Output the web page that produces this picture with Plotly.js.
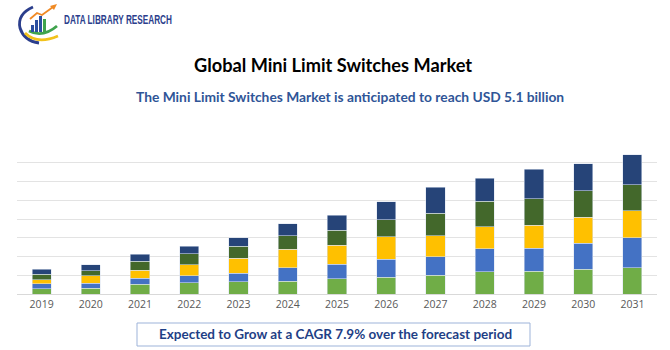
<!DOCTYPE html>
<html>
<head>
<meta charset="utf-8">
<script src="https://cdn.plot.ly/plotly-3.0.1.min.js"></script>
<style>
html,body{margin:0;padding:0;background:#fff;}
#chart{width:670px;height:350px;}
</style>
</head>
<body>
<div id="chart"></div>
<script>
// ---- data (grid units) ----
var years = ['2019','2020','2021','2022','2023','2024','2025','2026','2027','2028','2029','2030','2031'];
var seg1 = [0.27,0.30,0.51,0.59,0.66,0.69,0.82,0.90,0.99,1.19,1.21,1.31,1.40]; // light green
var seg2 = [0.28,0.28,0.34,0.39,0.44,0.71,0.78,0.96,1.01,1.22,1.22,1.40,1.60]; // blue
var seg3 = [0.21,0.39,0.43,0.59,0.82,0.99,1.01,1.19,1.12,1.17,1.24,1.38,1.44]; // yellow
var seg4 = [0.30,0.28,0.48,0.59,0.62,0.71,0.78,0.92,1.19,1.38,1.40,1.42,1.38]; // dark green
var seg5 = [0.27,0.30,0.37,0.39,0.46,0.66,0.80,0.94,1.38,1.22,1.58,1.44,1.60]; // navy
var seriesValues = [seg1, seg2, seg3, seg4, seg5];
var seriesNames = ['Segment 1','Segment 2','Segment 3','Segment 4','Segment 5'];
var seriesColors = ['#70AD47','#4472C4','#FFC000','#43682B','#264478'];

var titleText = 'Global Mini Limit Switches Market';
var subtitleText = 'The Mini Limit Switches Market is anticipated to reach USD 5.1 billion';
var footerText = 'Expected to Grow at a CAGR 7.9% over the forecast period';
var brandText = 'DATA LIBRARY RESEARCH';

// ---- layout helpers (pixel -> paper) ----
var W = 670, H = 350;
var ml = 17, mr = 13, mt = 144, mb = 56;
var pw = W - ml - mr, ph = H - mt - mb;
function px(x){ return (x - ml) / pw; }
function py(y){ return (H - mb - y) / ph; }

var traces = seriesValues.map(function(v, i){
  return {
    type: 'bar', x: years, y: v, name: seriesNames[i],
    marker: {color: seriesColors[i], line: {color: 'rgba(220,228,240,0.9)', width: 0.6}},
    hoverinfo: 'skip'
  };
});

function pathPx(d){
  return d.replace(/(-?\d+(\.\d+)?),(-?\d+(\.\d+)?)/g, function(m, a, b, c){
    return px(parseFloat(a)).toFixed(5) + ',' + py(parseFloat(c)).toFixed(5);
  });
}

var shapes = [
  // footer box
  {type:'rect', xref:'paper', yref:'paper', x0:px(137), x1:px(530), y0:py(346), y1:py(323),
   line:{color:'#9DB3D9', width:1}, fillcolor:'rgba(0,0,0,0)'},
  // logo: blue outer arc
  {type:'path', xref:'paper', yref:'paper', line:{color:'#2B3E8C', width:2.8},
   path: pathPx('M 33,7 Q 17,14 20,28 Q 24,41 39,43')},
  // logo: yellow swoosh
  {type:'path', xref:'paper', yref:'paper', line:{color:'#F2C21B', width:2.8},
   path: pathPx('M 25,33 Q 37,45 58,36')},
  // logo: green swoosh
  {type:'path', xref:'paper', yref:'paper', line:{color:'#3FA34D', width:2.8},
   path: pathPx('M 29,31 Q 43,38 57,26')},
  // logo bars
  {type:'rect', xref:'paper', yref:'paper', x0:px(31), x1:px(34), y0:py(32), y1:py(25), fillcolor:'#2B4FA0', line:{width:0}},
  {type:'rect', xref:'paper', yref:'paper', x0:px(35), x1:px(38), y0:py(32), y1:py(20), fillcolor:'#2B4FA0', line:{width:0}},
  {type:'rect', xref:'paper', yref:'paper', x0:px(39), x1:px(42), y0:py(32), y1:py(16), fillcolor:'#2B4FA0', line:{width:0}},
  {type:'rect', xref:'paper', yref:'paper', x0:px(43), x1:px(46), y0:py(32), y1:py(19), fillcolor:'#3FA34D', line:{width:0}},
  // logo arrow
  {type:'path', xref:'paper', yref:'paper', line:{color:'#F08A24', width:1.8},
   path: pathPx('M 30,19 L 37,13 L 42,15 L 53,7')},
  {type:'path', xref:'paper', yref:'paper', line:{width:0}, fillcolor:'#F08A24',
   path: pathPx('M 57,4 L 50,6 L 54,10 Z')}
];

var annotations = [
  {text:'<b>'+titleText+'</b>', xref:'paper', yref:'paper', x:px(333), y:py(65), showarrow:false,
   font:{family:'Lato, "Open Sans", sans-serif', size:18.2, color:'#000000'}, xanchor:'center', yanchor:'middle'},
  {text:'<b>'+subtitleText+'</b>', xref:'paper', yref:'paper', x:px(350), y:py(96), showarrow:false,
   font:{family:'Lato, "Open Sans", sans-serif', size:13.8, color:'#2F5597'}, xanchor:'center', yanchor:'middle'},
  {text:'<b>'+footerText+'</b>', xref:'paper', yref:'paper', x:px(335), y:py(334), showarrow:false,
   font:{family:'Lato, "Open Sans", sans-serif', size:13.5, color:'#1F3F86'}, xanchor:'center', yanchor:'middle'},
  {text:'<b>'+brandText+'</b>', xref:'paper', yref:'paper', x:px(62), y:py(20), showarrow:false,
   font:{family:'"Liberation Sans", sans-serif', size:12.5, color:'#2B3E8C'}, xanchor:'left', yanchor:'middle'}
];

var layout = {
  width: W, height: H,
  margin: {l: ml, r: mr, t: mt, b: mb, pad: 0},
  paper_bgcolor: '#ffffff', plot_bgcolor: '#ffffff',
  barmode: 'stack', bargap: 0.61,
  showlegend: false,
  xaxis: {type:'category', showgrid:false, showline:true, linecolor:'#D9D9D9', linewidth:1,
          ticks:'', tickfont:{family:'"Open Sans", "Noto Sans", sans-serif', size:10.5, color:'#595959'}, fixedrange:true},
  yaxis: {range:[0,8], dtick:1, showticklabels:false, showgrid:true, gridcolor:'#E3E3E3', gridwidth:1,
          zeroline:false, ticks:'', fixedrange:true},
  shapes: shapes,
  annotations: annotations
};

Plotly.newPlot('chart', traces, layout, {displayModeBar:false, staticPlot:true}).then(function(gd){
  // condense the brand wordmark horizontally to match the narrow logo lettering
  var texts = gd.querySelectorAll('.annotation-text');
  texts.forEach(function(t){
    if (t.textContent === brandText) {
      var bb = t.getBBox();
      var target = 108;
      var s = target / bb.width;
      var x0 = bb.x;
      t.setAttribute('transform', 'translate(' + x0 + ',0) scale(' + s + ',1) translate(' + (-x0) + ',0)');
    }
  });
});
</script>
</body>
</html>
